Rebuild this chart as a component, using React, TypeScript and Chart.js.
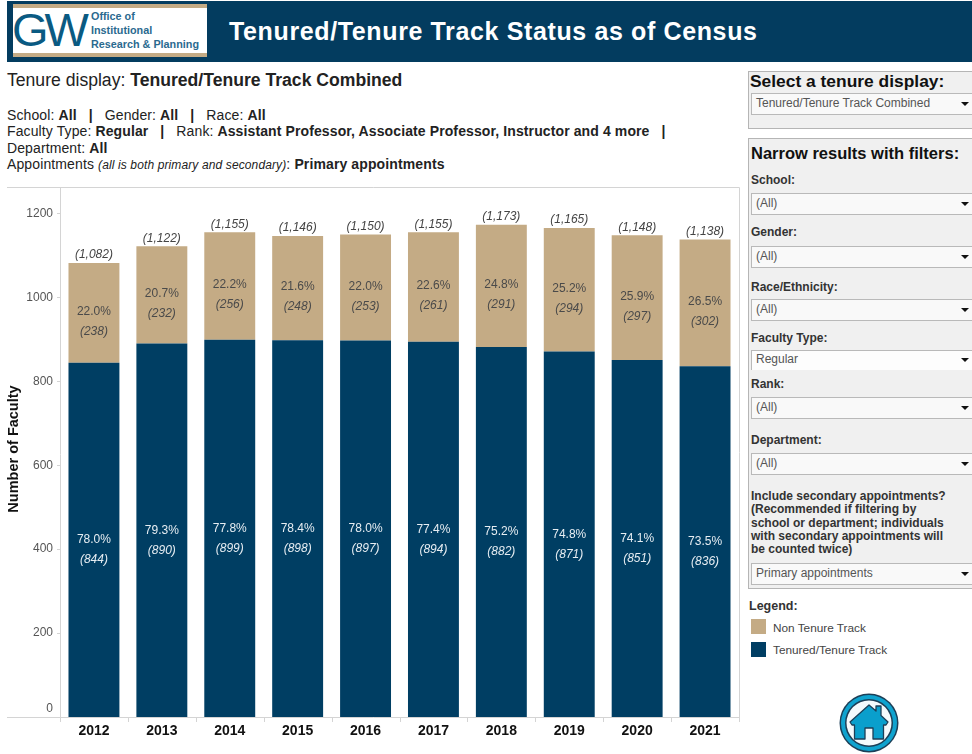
import React, { useEffect, useRef } from "react";
import { Chart, registerables } from "chart.js";

Chart.register(...registerables);

const years = ["2012", "2013", "2014", "2015", "2016", "2017", "2018", "2019", "2020", "2021"];
const tenured = [844, 890, 899, 898, 897, 894, 882, 871, 851, 836];
const nonTenure = [238, 232, 256, 248, 253, 261, 291, 294, 297, 302];
const totals = [1082, 1122, 1155, 1146, 1150, 1155, 1173, 1165, 1148, 1138];
const tenuredPct = ["78.0%", "79.3%", "77.8%", "78.4%", "78.0%", "77.4%", "75.2%", "74.8%", "74.1%", "73.5%"];
const nonTenurePct = ["22.0%", "20.7%", "22.2%", "21.6%", "22.0%", "22.6%", "24.8%", "25.2%", "25.9%", "26.5%"];

const NAVY = "#003e63";
const TAN = "#c4ab85";
const FONT = '"Liberation Sans", Arial, sans-serif';

const fmt = (n: number) => "(" + n.toLocaleString("en-US") + ")";

const labelsPlugin = {
  id: "barLabels",
  afterDatasetsDraw(chart: any) {
    const { ctx, scales } = chart;
    const y = scales.y;
    ctx.save();
    ctx.textAlign = "center";
    ctx.textBaseline = "middle";
    const pair = (x: number, yc: number, pct: string, count: number, color: string) => {
      ctx.fillStyle = color;
      ctx.font = `12px ${FONT}`;
      ctx.fillText(pct, x, yc);
      ctx.font = `italic 12px ${FONT}`;
      ctx.fillText(fmt(count), x, yc + 20);
    };
    years.forEach((_, i) => {
      const x = scales.x.getPixelForValue(i);
      pair(x, y.getPixelForValue(tenured[i] / 2), tenuredPct[i], tenured[i], "#e6edf2");
      pair(x, y.getPixelForValue(tenured[i] + nonTenure[i] / 2) - 1, nonTenurePct[i], nonTenure[i], "#4a4a4a");
      ctx.fillStyle = "#444";
      ctx.font = `italic 12px ${FONT}`;
      ctx.fillText(fmt(totals[i]), x, y.getPixelForValue(totals[i]) - 8);
    });
    ctx.restore();
  },
};

function TextAt(p: { x: number; y: number; s?: number; w?: number; c?: string; ls?: number; children: React.ReactNode }) {
  return (
    <div
      style={{
        position: "absolute",
        left: p.x,
        top: p.y - 10,
        height: 20,
        lineHeight: "20px",
        fontSize: p.s ?? 12,
        fontWeight: p.w ?? 400,
        color: p.c ?? "#222",
        letterSpacing: p.ls ?? 0,
        whiteSpace: "nowrap",
      }}
    >
      {p.children}
    </div>
  );
}

function Select(p: { y: number; h: number; text: string; noBottom?: boolean }) {
  return (
    <div
      style={{
        position: "absolute",
        left: 751,
        top: p.y,
        width: 221,
        height: p.h,
        boxSizing: "border-box",
        background: p.noBottom ? "#fdfdfd" : "#f9f9f9",
        borderTop: "1.5px solid #b9b9b9",
        borderLeft: "1.5px solid #b9b9b9",
        borderBottom: p.noBottom ? "none" : "1.5px solid #b9b9b9",
      }}
    >
      <div style={{ position: "absolute", left: 4, top: 0, lineHeight: `${p.h - 3}px`, fontSize: 12, color: "#555", whiteSpace: "nowrap" }}>
        {p.text}
      </div>
      <div
        style={{
          position: "absolute",
          left: 209,
          top: (p.h - 6) / 2,
          width: 0,
          height: 0,
          borderLeft: "4px solid transparent",
          borderRight: "4px solid transparent",
          borderTop: "4px solid #111",
        }}
      />
    </div>
  );
}

const panel: React.CSSProperties = {
  position: "absolute",
  left: 748,
  width: 224,
  boxSizing: "border-box",
  background: "#f0f0f0",
  border: "1.5px solid #b5b5b5",
  borderRight: "none",
};

export default function App() {
  const ref = useRef<HTMLCanvasElement>(null);

  useEffect(() => {
    const chart = new Chart(ref.current!, {
      type: "bar",
      data: {
        labels: years,
        datasets: [
          { label: "Tenured/Tenure Track", data: tenured, backgroundColor: NAVY, borderWidth: 0, categoryPercentage: 1, barPercentage: 0.75 },
          { label: "Non Tenure Track", data: nonTenure, backgroundColor: TAN, borderWidth: 0, categoryPercentage: 1, barPercentage: 0.75 },
        ],
      },
      options: {
        responsive: false,
        animation: false,
        layout: { padding: { right: 6, left: 0, top: 0, bottom: 0 } },
        plugins: {
          legend: { display: false },
          tooltip: { enabled: false },
          title: { display: false },
        },
        scales: {
          x: {
            stacked: true,
            afterFit: (s: any) => {
              s.height = 37;
              s.paddingLeft = 0;
              s.paddingRight = 0;
            },
            grid: { display: false },
            border: { display: false },
            ticks: { color: "#111", font: { family: FONT, size: 14, weight: "bold" }, padding: -2, maxRotation: 0 },
          },
          y: {
            stacked: true,
            min: 0,
            max: 1263,
            afterFit: (s: any) => {
              s.width = 60;
              s.paddingTop = 0;
              s.paddingBottom = 0;
            },
            afterBuildTicks: (s: any) => {
              s.ticks = s.ticks.filter((t: any) => t.value % 200 === 0);
            },
            grid: { display: false },
            border: { display: false },
            ticks: { stepSize: 200, display: false },
          },
        },
      },
      plugins: [
        labelsPlugin,
        {
          id: "frame",
          afterDraw(c: any) {
            const { ctx, chartArea: a, scales } = c;
            ctx.save();
            ctx.strokeStyle = "#d4d4d4";
            ctx.lineWidth = 1;
            ctx.beginPath();
            ctx.moveTo(7, a.top + 0.5);
            ctx.lineTo(a.right + 0.5, a.top + 0.5);
            ctx.lineTo(a.right + 0.5, a.bottom + 0.5);
            ctx.lineTo(7, a.bottom + 0.5);
            ctx.moveTo(a.left + 0.5, a.top);
            ctx.lineTo(a.left + 0.5, a.bottom + 5);
            const step = (a.right - a.left) / years.length;
            years.forEach((_, i) => {
              const x = Math.round(a.left + step * (i + 1)) + 0.5;
              ctx.moveTo(x, a.bottom);
              ctx.lineTo(x, a.bottom + 5);
            });
            scales.y.ticks.forEach((t: any) => {
              const yy = Math.round(scales.y.getPixelForValue(t.value)) + 0.5;
              if (t.value > 0) {
                ctx.moveTo(a.left - 3, yy);
                ctx.lineTo(a.left, yy);
              }
            });
            ctx.stroke();
            // y tick labels: the zero label sits above the baseline, as in the source
            ctx.fillStyle = "#555";
            ctx.font = `12px ${FONT}`;
            ctx.textAlign = "right";
            ctx.textBaseline = "middle";
            scales.y.ticks.forEach((t: any) => {
              const yy = scales.y.getPixelForValue(t.value);
              ctx.fillText(String(t.value), 53, t.value === 0 ? yy - 8 : yy);
            });
            // y axis title
            ctx.translate(14, (a.top + a.bottom) / 2 - 3);
            ctx.rotate(-Math.PI / 2);
            ctx.textAlign = "center";
            ctx.fillStyle = "#111";
            ctx.font = `bold 14.5px ${FONT}`;
            ctx.fillText("Number of Faculty", 0, 0);
            ctx.restore();
          },
        },
      ],
    } as any);
    return () => chart.destroy();
  }, []);

  return (
    <div style={{ position: "absolute", left: 0, top: 0, width: 972, height: 754, overflow: "hidden", background: "#fff", fontFamily: FONT }}>
      {/* Header */}
      <div style={{ position: "absolute", left: 7, top: 1, width: 965, height: 61, background: "#033c5f" }} />
      <div style={{ position: "absolute", left: 13, top: 4, width: 194, height: 53, background: "#fff", borderTop: "4px solid #c4ab85", borderBottom: "4px solid #c4ab85", boxSizing: "border-box", overflow: "hidden" }}>
        <div style={{ position: "absolute", left: -1, top: 0, height: 45, lineHeight: "44px", fontSize: 47, color: "#0a5a82", letterSpacing: -4 }}>GW</div>
        <div style={{ position: "absolute", left: 78, top: 1, fontSize: 10.8, lineHeight: "14.2px", fontWeight: 700, color: "#2b6a8f", whiteSpace: "nowrap" }}>
          Office of<br />Institutional<br />Research &amp; Planning
        </div>
      </div>
      <TextAt x={229} y={31} s={25} w={700} c="#fff" ls={0.63}>Tenured/Tenure Track Status as of Census</TextAt>

      {/* Filter summary */}
      <TextAt x={7} y={80} s={17.6}>Tenure display: <b>Tenured/Tenure Track Combined</b></TextAt>
      <TextAt x={7} y={115} s={14} ls={0.11}>School: <b>All</b> &nbsp; <b>|</b> &nbsp; Gender: <b>All</b> &nbsp; <b>|</b> &nbsp; Race: <b>All</b></TextAt>
      <TextAt x={7} y={131} s={14} ls={0.11}>Faculty Type: <b>Regular</b> &nbsp; <b>|</b> &nbsp; Rank: <b>Assistant Professor, Associate Professor, Instructor and 4 more</b> &nbsp; <b>|</b></TextAt>
      <TextAt x={7} y={148} s={14} ls={0.11}>Department: <b>All</b></TextAt>
      <TextAt x={7} y={164} s={14} ls={0.12}>Appointments <i style={{ fontSize: 12 }}>(all is both primary and secondary)</i>: <b>Primary appointments</b></TextAt>

      {/* Chart */}
      <canvas ref={ref} width={745} height={567} style={{ position: "absolute", left: 0, top: 187, display: "block" }} />

      {/* Right panels */}
      <div style={{ ...panel, top: 71, height: 58 }} />
      <TextAt x={750} y={81} s={17.4} w={700} c="#111">Select a tenure display:</TextAt>
      <Select y={93} h={22} text="Tenured/Tenure Track Combined" />

      <div style={{ ...panel, top: 138, height: 451 }} />
      <TextAt x={751} y={153} s={16.5} w={700} c="#111">Narrow results with filters:</TextAt>
      <TextAt x={751} y={180} s={12} w={700} c="#333">School:</TextAt>
      <Select y={193} h={22} text="(All)" />
      <TextAt x={751} y={232} s={12} w={700} c="#333">Gender:</TextAt>
      <Select y={246} h={22} text="(All)" />
      <TextAt x={751} y={287} s={12} w={700} c="#333">Race/Ethnicity:</TextAt>
      <Select y={299} h={22} text="(All)" />
      <TextAt x={751} y={338} s={12} w={700} c="#333">Faculty Type:</TextAt>
      <Select y={350} h={20} text="Regular" noBottom />
      <TextAt x={751} y={384} s={12} w={700} c="#333">Rank:</TextAt>
      <Select y={397} h={22} text="(All)" />
      <TextAt x={751} y={440} s={12} w={700} c="#333">Department:</TextAt>
      <Select y={453} h={22} text="(All)" />
      <TextAt x={751} y={496} s={12} w={700} c="#333">Include secondary appointments?</TextAt>
      <TextAt x={751} y={509} s={12} w={700} c="#333">(Recommended if filtering by</TextAt>
      <TextAt x={751} y={523} s={12} w={700} c="#333">school or department; individuals</TextAt>
      <TextAt x={751} y={536} s={12} w={700} c="#333">with secondary appointments will</TextAt>
      <TextAt x={751} y={549} s={12} w={700} c="#333">be counted twice)</TextAt>
      <Select y={563} h={22} text="Primary appointments" />

      {/* Legend */}
      <TextAt x={749} y={606} s={12.5} w={700} c="#333">Legend:</TextAt>
      <div style={{ position: "absolute", left: 751, top: 619, width: 15, height: 15, background: TAN }} />
      <TextAt x={773} y={628} s={11.8} c="#444">Non Tenure Track</TextAt>
      <div style={{ position: "absolute", left: 751, top: 642, width: 15, height: 15, background: NAVY }} />
      <TextAt x={773} y={650} s={11.8} c="#444">Tenured/Tenure Track</TextAt>

      {/* Home icon */}
      <svg width="62" height="62" viewBox="0 0 62 62" style={{ position: "absolute", left: 838, top: 692 }}>
        <circle cx="31" cy="31" r="29.5" fill="#1c3f57" />
        <circle cx="31" cy="31" r="28" fill="#0fa3cf" />
        <circle cx="31" cy="31" r="24" fill="#1c3f57" />
        <circle cx="31" cy="31" r="22.5" fill="#f4fafc" />
        <path
          d="M31 13 L38 19 V14 H43 V23.5 L50 30 L48 33 H45.5 V47 H35 V36 H27 V47 H16.5 V33 H14 L12 30 Z"
          fill="#0a9fcc"
          stroke="#1c3f57"
          strokeWidth="1.3"
          strokeLinejoin="round"
        />
      </svg>
    </div>
  );
}
